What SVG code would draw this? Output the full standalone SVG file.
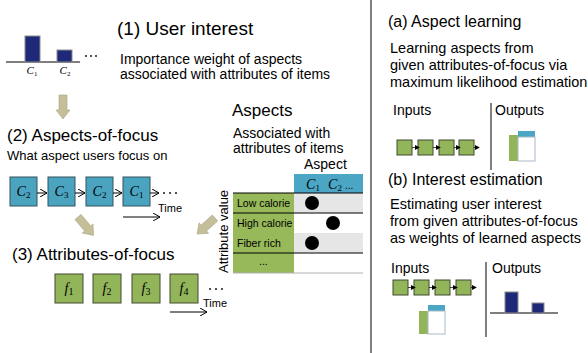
<svg xmlns="http://www.w3.org/2000/svg" width="588" height="353" viewBox="0 0 588 353">
<style>
text{font-family:"Liberation Sans",Arial,sans-serif;fill:#000}
.h{font-size:17px}
.hr{font-size:16px}
.b{font-size:13px}
.r{font-size:14.5px}
.m{font-family:"Liberation Serif","Times New Roman",serif;font-style:italic}
.sub{font-style:normal}
.bar{fill:#1e2a78;stroke:#8c8c8c;stroke-width:1}
.cbox{fill:#4aa3bf;stroke:#33535e;stroke-width:1}
.fbox{fill:#93b55a;stroke:#404a30;stroke-width:1}
.blk{fill:#c4bf98;stroke:#aaa583;stroke-width:0.6}
.ln{stroke:#000;stroke-width:1.2;fill:none}
.thin{stroke:#000;stroke-width:1;fill:none}
.dot{fill:#000}
</style>
<defs>
<marker id="open" viewBox="0 0 8 8" refX="7" refY="4" markerWidth="8" markerHeight="8" markerUnits="userSpaceOnUse" orient="auto">
<path d="M0,0 L7,4 L0,8" fill="none" stroke="#000" stroke-width="1"/>
</marker>
<marker id="tiny" viewBox="0 0 6 6" refX="5" refY="3" markerWidth="5" markerHeight="5" markerUnits="userSpaceOnUse" orient="auto">
<path d="M0,0 L6,3 L0,6 Z" fill="#000"/>
</marker>
<path id="blockArrow" d="M-4,0 L4,0 L4,15 L7,15 L0,24 L-7,15 L-4,15 Z"/>
</defs>

<!-- (1) User interest -->
<g id="user-interest">
<line x1="6" y1="62" x2="80" y2="62" class="ln"/>
<rect x="25" y="36" width="15" height="26" class="bar"/>
<rect x="57" y="50" width="15" height="12" class="bar"/>
<circle cx="86" cy="56" r="0.9" class="dot"/><circle cx="91" cy="56" r="0.9" class="dot"/><circle cx="96" cy="56" r="0.9" class="dot"/>
<text x="32" y="74" text-anchor="middle" class="m" font-size="11">C<tspan class="sub" font-size="7" dy="2">1</tspan></text>
<text x="65" y="74" text-anchor="middle" class="m" font-size="11">C<tspan class="sub" font-size="7" dy="2">2</tspan></text>
<text x="117" y="35" font-size="19">(1) User interest</text>
<text x="120" y="64" font-size="14">Importance weight of aspects</text>
<text x="120" y="79" font-size="14">associated with attributes of items</text>
</g>

<!-- (2) Aspects-of-focus -->
<g id="aspects-of-focus">
<text x="7" y="141" class="h">(2) Aspects-of-focus</text>
<text x="7" y="160" class="b">What aspect users focus on</text>
<g id="c-seq">
<rect x="10" y="177" width="27" height="29" class="cbox"/>
<rect x="48" y="177" width="27" height="29" class="cbox"/>
<rect x="86" y="177" width="27" height="29" class="cbox"/>
<rect x="123" y="177" width="27" height="29" class="cbox"/>
<text x="23.5" y="196" text-anchor="middle" class="m" font-size="14">C<tspan class="sub" font-size="9" dy="2">2</tspan></text>
<text x="61.5" y="196" text-anchor="middle" class="m" font-size="14">C<tspan class="sub" font-size="9" dy="2">3</tspan></text>
<text x="99.5" y="196" text-anchor="middle" class="m" font-size="14">C<tspan class="sub" font-size="9" dy="2">2</tspan></text>
<text x="136.5" y="196" text-anchor="middle" class="m" font-size="14">C<tspan class="sub" font-size="9" dy="2">1</tspan></text>
<circle cx="164" cy="193" r="0.9" class="dot"/><circle cx="170" cy="193" r="0.9" class="dot"/><circle cx="176" cy="193" r="0.9" class="dot"/>
<text x="158" y="212" font-size="11">Time</text>
</g>
</g>

<!-- (3) Attributes-of-focus -->
<g id="attributes-of-focus">
<text x="12" y="260" class="h">(3) Attributes-of-focus</text>
<rect x="55" y="274" width="28" height="29" class="fbox"/>
<rect x="93" y="274" width="28" height="29" class="fbox"/>
<rect x="132" y="274" width="28" height="29" class="fbox"/>
<rect x="170" y="274" width="28" height="29" class="fbox"/>
<text x="69" y="293" text-anchor="middle" class="m" font-size="14">f<tspan class="sub" font-size="10" dy="2">1</tspan></text>
<text x="107" y="293" text-anchor="middle" class="m" font-size="14">f<tspan class="sub" font-size="10" dy="2">2</tspan></text>
<text x="146" y="293" text-anchor="middle" class="m" font-size="14">f<tspan class="sub" font-size="10" dy="2">3</tspan></text>
<text x="184" y="293" text-anchor="middle" class="m" font-size="14">f<tspan class="sub" font-size="10" dy="2">4</tspan></text>
<circle cx="210" cy="289" r="0.9" class="dot"/><circle cx="216" cy="289" r="0.9" class="dot"/><circle cx="222" cy="289" r="0.9" class="dot"/>
<text x="203" y="307" font-size="11">Time</text>
</g>

<!-- Aspects table -->
<g id="aspects">
<text x="232" y="116" class="h">Aspects</text>
<text x="233" y="138" font-size="14">Associated with</text>
<text x="233" y="153" font-size="14">attributes of items</text>
<text x="304" y="169" font-size="14">Aspect</text>
<rect x="294" y="174" width="69" height="19" fill="#4aa6c4"/>
<text x="313" y="189" text-anchor="middle" class="m" font-size="14">C<tspan class="sub" font-size="9" dy="2">1</tspan></text>
<text x="335" y="189" text-anchor="middle" class="m" font-size="14">C<tspan class="sub" font-size="9" dy="2">2</tspan></text>
<text x="345" y="189" font-size="10">...</text>
<rect x="233" y="193" width="61" height="80" fill="#97b95a"/>
<rect x="294" y="193" width="69" height="20" fill="#e6e6e6"/>
<rect x="294" y="233" width="69" height="20" fill="#e6e6e6"/>
<line x1="233" y1="193" x2="363" y2="193" class="thin"/>
<line x1="233" y1="213" x2="363" y2="213" class="thin"/>
<line x1="233" y1="253" x2="363" y2="253" class="thin"/>
<line x1="233" y1="273" x2="363" y2="273" stroke="#b0b0b0" stroke-width="1"/>
<text x="237" y="207" font-size="10.5">Low calorie</text>
<text x="237" y="227" font-size="10.5">High calorie</text>
<text x="237" y="247" font-size="10.5">Fiber rich</text>
<text x="259" y="265" font-size="10.5">...</text>
<circle cx="312" cy="203" r="7" class="dot"/>
<circle cx="333" cy="223" r="7" class="dot"/>
<circle cx="312" cy="243" r="7" class="dot"/>
<text transform="translate(228,273) rotate(-90)" font-size="13">Attribute value</text>
</g>

<!-- divider between the two halves -->
<line x1="371" y1="0" x2="371" y2="353" stroke="#000" stroke-width="1"/>

<!-- (a) Aspect learning -->
<g id="aspect-learning">
<text x="388" y="27" class="hr">(a) Aspect learning</text>
<text x="390" y="53" class="r">Learning aspects from</text>
<text x="390" y="70" class="r">given attributes-of-focus via</text>
<text x="390" y="87" class="r">maximum likelihood estimation</text>
<text x="393" y="115" font-size="14">Inputs</text>
<text x="495" y="115" font-size="14">Outputs</text>
<line x1="491" y1="103" x2="491" y2="170" stroke="#000" stroke-width="1"/>
<rect x="397" y="140" width="15" height="15" class="fbox"/>
<rect x="418" y="140" width="15" height="15" class="fbox"/>
<rect x="439" y="140" width="15" height="15" class="fbox"/>
<rect x="459" y="140" width="15" height="15" class="fbox"/>
<rect x="509" y="135" width="9" height="26" fill="#93b55a"/>
<rect x="518" y="131" width="17" height="6" fill="#4aa6c4"/>
<rect x="518" y="137" width="17" height="24" fill="#fff" stroke="#a9b8c8" stroke-width="1"/>
</g>

<!-- (b) Interest estimation -->
<g id="interest-estimation">
<text x="388" y="185" class="hr">(b) Interest estimation</text>
<text x="390" y="209" class="r">Estimating user interest</text>
<text x="390" y="226" class="r">from given attributes-of-focus</text>
<text x="390" y="243" class="r">as weights of learned aspects</text>
<text x="391" y="273" font-size="14">Inputs</text>
<text x="492" y="273" font-size="14">Outputs</text>
<line x1="486" y1="262" x2="486" y2="337" stroke="#000" stroke-width="1"/>
<rect x="393" y="280" width="15" height="15" class="fbox"/>
<rect x="414" y="280" width="15" height="15" class="fbox"/>
<rect x="435" y="280" width="15" height="15" class="fbox"/>
<rect x="456" y="280" width="15" height="15" class="fbox"/>
<rect x="419" y="311" width="9" height="23" fill="#93b55a"/>
<rect x="428" y="305" width="17" height="6" fill="#4aa6c4"/>
<rect x="428" y="311" width="17" height="23" fill="#fff" stroke="#a9b8c8" stroke-width="1"/>
<line x1="490" y1="313" x2="558" y2="313" class="ln"/>
<rect x="505" y="292" width="13" height="21" class="bar"/>
<rect x="532" y="303" width="12" height="10" class="bar"/>
</g>

<!-- connectors -->
<g id="connectors">
<use href="#blockArrow" transform="translate(63,95)" class="blk"/>
<use href="#blockArrow" transform="translate(78,217) rotate(-40)" class="blk"/>
<use href="#blockArrow" transform="translate(215,218) rotate(48)" class="blk"/>
<line x1="37" y1="193" x2="47" y2="193" class="thin" marker-end="url(#open)"/>
<line x1="75" y1="193" x2="85" y2="193" class="thin" marker-end="url(#open)"/>
<line x1="113" y1="193" x2="122" y2="193" class="thin" marker-end="url(#open)"/>
<line x1="150" y1="193" x2="159" y2="193" class="thin" marker-end="url(#open)"/>
<line x1="123" y1="217" x2="160" y2="217" class="thin" marker-end="url(#open)"/>
<line x1="170" y1="312" x2="207" y2="312" class="thin" marker-end="url(#open)"/>
<line x1="412" y1="147.5" x2="419" y2="147.5" stroke="#000" stroke-width="0.7" marker-end="url(#tiny)"/>
<line x1="433" y1="147.5" x2="440" y2="147.5" stroke="#000" stroke-width="0.7" marker-end="url(#tiny)"/>
<line x1="454" y1="147.5" x2="460" y2="147.5" stroke="#000" stroke-width="0.7" marker-end="url(#tiny)"/>
<line x1="474" y1="147.5" x2="479" y2="147.5" stroke="#000" stroke-width="0.7" marker-end="url(#tiny)"/>
<line x1="408" y1="287.5" x2="415" y2="287.5" stroke="#000" stroke-width="0.7" marker-end="url(#tiny)"/>
<line x1="429" y1="287.5" x2="436" y2="287.5" stroke="#000" stroke-width="0.7" marker-end="url(#tiny)"/>
<line x1="450" y1="287.5" x2="457" y2="287.5" stroke="#000" stroke-width="0.7" marker-end="url(#tiny)"/>
<line x1="471" y1="287.5" x2="476" y2="287.5" stroke="#000" stroke-width="0.7" marker-end="url(#tiny)"/>
</g>
</svg>
